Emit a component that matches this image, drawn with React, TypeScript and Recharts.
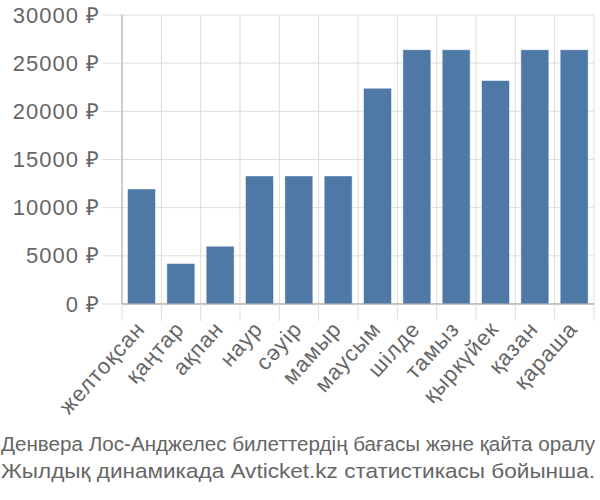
import { Bar, BarChart, CartesianGrid, XAxis, YAxis } from 'recharts'

const months = [
  'желтоқсан',
  'қаңтар',
  'ақпан',
  'наур',
  'сәуір',
  'мамыр',
  'маусым',
  'шілде',
  'тамыз',
  'қыркүйек',
  'қазан',
  'қараша',
]
const prices = [11950, 4200, 6000, 13300, 13300, 13300, 22400, 26400, 26400, 23200, 26400, 26400]
const yTicks = [0, 5000, 10000, 15000, 20000, 25000, 30000]
const captionLines = [
  'Денвера Лос-Анджелес билеттердің бағасы және қайта оралу',
  'Жылдық динамикада Avticket.kz статистикасы бойынша.',
]

const data = months.map((m, i) => ({ month: m, price: prices[i] }))

const FONT = '"Liberation Sans", Arial, sans-serif'
const GRID = '#dddddd'
const TEXT = '#666666'

function MonthTick(props: any) {
  const { x, y, payload, index, visibleTicksCount } = props
  const step = 472 / months.length
  const half = step / 2
  const axisY = y - 8
  return (
    <g>
      <line x1={x - half} y1={axisY} x2={x - half} y2={axisY + 17} stroke={GRID} />
      {index === visibleTicksCount - 1 ? (
        <line x1={x + half} y1={axisY} x2={x + half} y2={axisY + 17} stroke={GRID} />
      ) : null}
      <text
        x={x}
        y={axisY + 22}
        transform={`rotate(-48, ${x}, ${axisY + 22})`}
        textAnchor="end"
        dominantBaseline="middle"
        fontSize={22}
        letterSpacing={1}
        fontFamily={FONT}
        fill={TEXT}
      >
        {payload.value}
      </text>
    </g>
  )
}

function PriceTick(props: any) {
  const { x, y, payload } = props
  return (
    <text
      x={x}
      y={y}
      dy={7.5}
      textAnchor="end"
      fontSize={22}
      letterSpacing={1}
      fontFamily={FONT}
      fill={TEXT}
    >
      {`${payload.value} ₽`}
    </text>
  )
}

export default function App() {
  return (
    <div style={{ position: 'absolute', left: 0, top: 0, width: 600, height: 500, background: '#fff' }}>
      <BarChart
        width={600}
        height={430}
        data={data}
        margin={{ top: 15, right: 6, left: 0, bottom: 0 }}
        barCategoryGap="14%"
      >
        <CartesianGrid
          stroke={GRID}
          verticalCoordinatesGenerator={({ offset }: any) =>
            months.map((_, i) => offset.left + ((i + 1) * offset.width) / months.length)
          }
        />
        <XAxis
          dataKey="month"
          interval={0}
          height={126}
          axisLine={{ stroke: '#999999' }}
          tickLine={false}
          tick={<MonthTick />}
        />
        <YAxis
          width={122}
          domain={[0, 30000]}
          ticks={yTicks}
          interval={0}
          axisLine={{ stroke: '#999999' }}
          tickLine={{ stroke: GRID }}
          tickSize={20}
          tickMargin={2}
          tick={<PriceTick />}
        />
        <Bar dataKey="price" fill="#4e79a7" stroke="#ffffff" strokeOpacity={0.5} isAnimationActive={false} />
      </BarChart>
      <svg width={600} height={70} style={{ position: 'absolute', left: 0, top: 430 }}>
        {captionLines.map((l, i) => (
          <text
            key={l}
            x={1}
            y={21 + i * 27}
            textLength={594}
            lengthAdjust="spacingAndGlyphs"
            fontSize={20.5}
            fontFamily={FONT}
            fill={TEXT}
          >
            {l}
          </text>
        ))}
      </svg>
    </div>
  )
}
